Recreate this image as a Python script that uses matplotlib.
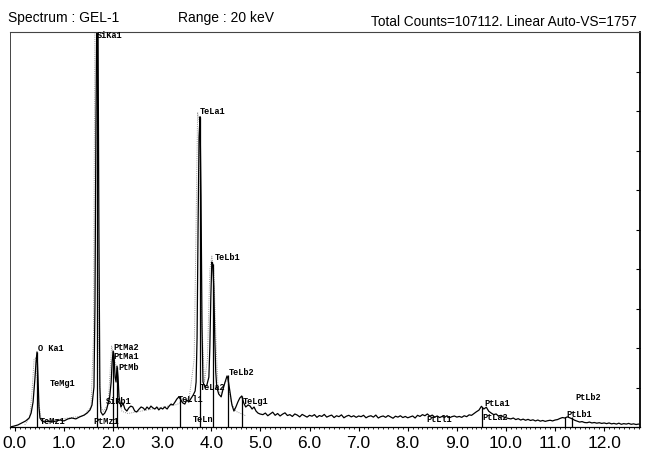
import matplotlib
matplotlib.use("Agg")
import matplotlib.pyplot as plt
from matplotlib.ticker import MultipleLocator

# measured spectrum (keV, counts)
kev = [-0.10, -0.02, 0.06, 0.14, 0.22, 0.29, 0.33, 0.37, 0.41, 0.43, 0.45, 0.47, 0.49, 0.51,
       0.55, 0.61, 0.67, 0.75, 0.84, 0.92, 1.00, 1.08, 1.16, 1.24, 1.32, 1.41, 1.47, 1.53,
       1.57, 1.61, 1.63, 1.65, 1.67, 1.69, 1.71, 1.73, 1.75, 1.79, 1.83, 1.87, 1.89, 1.93,
       1.96, 1.98, 2.00, 2.02, 2.04, 2.06, 2.08, 2.10, 2.12, 2.16, 2.20, 2.24, 2.28, 2.32,
       2.36, 2.40, 2.44, 2.48, 2.53, 2.57, 2.61, 2.65, 2.69, 2.73, 2.77, 2.81, 2.85, 2.89,
       2.93, 2.97, 3.01, 3.05, 3.10, 3.14, 3.18, 3.22, 3.26, 3.30, 3.34, 3.38, 3.42, 3.46,
       3.50, 3.54, 3.58, 3.63, 3.67, 3.69, 3.71, 3.73, 3.75, 3.77, 3.79, 3.81, 3.83, 3.87,
       3.91, 3.95, 3.97, 3.99, 4.01, 4.03, 4.05, 4.07, 4.09, 4.11, 4.15, 4.20, 4.24, 4.28,
       4.32, 4.34, 4.38, 4.42, 4.46, 4.50, 4.54, 4.58, 4.62, 4.66, 4.70, 4.75, 4.79, 4.83,
       4.87, 4.91, 4.95, 4.99,
       5.05, 5.10, 5.15, 5.20, 5.25, 5.30, 5.35, 5.40, 5.45, 5.50, 5.55, 5.60, 5.65, 5.70,
       5.75, 5.80, 5.85, 5.90, 5.95, 6.00,
       6.05, 6.10, 6.15, 6.20, 6.25, 6.30, 6.35, 6.40, 6.45, 6.50, 6.55, 6.60, 6.65, 6.70,
       6.75, 6.80, 6.85, 6.90, 6.95, 7.00,
       7.05, 7.10, 7.15, 7.20, 7.25, 7.30, 7.35, 7.40, 7.45, 7.50, 7.55, 7.60, 7.65, 7.70,
       7.75, 7.80, 7.85, 7.90, 7.95, 8.00,
       8.05, 8.10, 8.15, 8.20, 8.25, 8.30, 8.35, 8.40, 8.45, 8.50, 8.55, 8.60, 8.65, 8.70,
       8.75, 8.80, 8.85, 8.90, 8.95, 9.00,
       9.05, 9.10, 9.15, 9.20, 9.25, 9.30, 9.35, 9.40, 9.45, 9.50, 9.55, 9.60, 9.65, 9.70,
       9.75, 9.80, 9.85, 9.90, 9.95, 10.00,
       10.05, 10.10, 10.15, 10.20, 10.25, 10.30, 10.35, 10.40, 10.45, 10.50, 10.55, 10.60,
       10.65, 10.70, 10.75, 10.80, 10.85, 10.90, 10.95, 11.00,
       11.05, 11.10, 11.15, 11.20, 11.25, 11.30, 11.35, 11.40, 11.45, 11.50, 11.55, 11.60,
       11.65, 11.70, 11.75, 11.80, 11.85, 11.90, 11.95, 12.00,
       12.05, 12.10, 12.15, 12.20, 12.25, 12.30, 12.35, 12.40, 12.45, 12.50, 12.55, 12.60,
       12.65, 12.70, 12.75]
counts = [0, 4, 9, 18, 27, 40, 62, 111, 222, 289, 334, 222, 89, 40,
          27, 22, 27, 22, 27, 31, 27, 36, 40, 36, 45, 53, 62, 76,
          98, 178, 534, 1335, 1900, 1900, 890, 178, 67, 53, 62, 80, 98, 134,
          200, 289, 338, 312, 222, 200, 271, 222, 134, 89, 107, 80, 71, 85,
          93, 89, 71, 67, 80, 89, 85, 76, 89, 80, 93, 85, 80, 89,
          76, 85, 80, 89, 80, 93, 102, 98, 111, 125, 134, 120, 107, 102,
          120, 111, 125, 142, 160, 200, 400, 890, 1290, 1380, 1024, 445, 200, 178,
          187, 222, 356, 579, 734, 725, 623, 400, 245, 178, 147, 134, 169, 200,
          227, 214, 156, 98, 71, 89, 111, 129, 138, 107, 89, 98, 93, 80,
          89, 71, 62, 58,
          55, 62, 50, 58, 66, 52, 60, 49, 57, 63, 51, 55, 47, 58, 53, 45, 56, 50, 44, 52,
          48, 55, 43, 51, 47, 56, 44, 49, 53, 42, 50, 46, 54, 41, 48, 52, 45, 50, 43, 49,
          46, 52, 41, 47, 50, 44, 53, 40, 46, 49, 43, 51, 45, 39, 48, 44, 50, 42, 47, 41,
          45, 49, 40, 52, 47, 55, 50, 58, 48, 53, 44, 49, 42, 47, 43, 50, 41, 46, 49, 44,
          47, 43, 50, 46, 54, 52, 60, 68, 75, 92, 80, 88, 70, 62, 55, 58, 48, 52, 45, 41,
          38, 36, 40, 33, 37, 31, 35, 30, 34, 29, 32, 27, 31, 26, 29, 25, 28, 30, 27, 31,
          33, 38, 42, 40, 45, 41, 36, 30, 26, 22, 24, 20, 19, 22, 18, 20, 17, 19, 16, 18,
          15, 18, 14, 16, 13, 17, 12, 15, 13, 16, 12, 14, 11, 13, 12]

# dotted grey overlay (fitted profile)
fit_kev = [0.20, 0.30, 0.35, 0.39, 0.43, 0.47, 0.53, 0.60, 1.40, 1.55, 1.60, 1.63, 1.66,
           1.70, 1.74, 1.80, 1.90, 1.94, 1.97, 2.00, 2.04, 2.08, 2.12, 2.18, 2.30, 3.30,
           3.55, 3.65, 3.69, 3.72, 3.76, 3.80, 3.86, 3.92, 3.97, 4.01, 4.05, 4.10, 4.14,
           4.20, 4.28, 4.33, 4.40, 4.50, 4.70]
fit_counts = [10, 40, 160, 300, 310, 130, 40, 25, 50, 90, 400, 1800, 1800,
              400, 90, 70, 100, 250, 360, 330, 290, 260, 120, 70, 60, 100,
              130, 300, 900, 1400, 1350, 500, 200, 300, 700, 760, 700, 350, 160,
              150, 200, 210, 110, 70, 50]

# KLM marker lines
marker_kev = [0.45, 1.68, 2.00, 2.08, 3.36, 3.77, 4.03, 4.34, 4.62, 9.52, 11.20, 11.34]
marker_top = [334, 1757, 338, 267, 125, 1380, 725, 231, 138, 89, 45, 45]

# peak labels
label_text = ["SiKa1", "TeLa1", "TeLb1", "O Ka1", "PtMa2", "PtMa1", "PtMb", "TeLb2",
              "TeLa2", "TeLl1", "TeLg1", "SiKb1", "TeMg1", "TeMz1", "PtMz1", "TeLn",
              "PtLl1", "PtLa1", "PtLa2", "PtLb1", "PtLb2"]
label_kev = [1.67, 3.77, 4.07, 0.47, 2.00, 2.00, 2.10, 4.36,
             3.77, 3.32, 4.64, 1.85, 0.71, 0.51, 1.59, 3.63,
             8.37, 9.57, 9.53, 11.24, 11.41]
label_counts = [1744, 1406, 757, 352, 360, 316, 267, 249,
                182, 125, 116, 120, 200, 31, 31, 40,
                36, 107, 45, 62, 134]

sans = ["Liberation Sans Narrow", "Liberation Sans"]

fig = plt.figure(figsize=(6.46, 4.56), dpi=100)
ax = fig.add_axes([10 / 646, 1 - 428 / 456, 630 / 646, 395 / 456])

ax.plot(fit_kev, fit_counts, color="#999999", lw=0.7, ls=(0, (1, 1.2)))
ax.plot(kev, counts, color="black", lw=0.9)
ax.vlines(marker_kev, 0, marker_top, color="black", lw=0.9)

for t, x, y in zip(label_text, label_kev, label_counts):
    ax.text(x, y, t, fontsize=6.2, family=["Liberation Mono", "DejaVu Sans Mono"],
            ha="left", va="center", color="black", weight="bold")

ax.set_xlim(-0.10, 12.73)
ax.set_ylim(0, 1757)

ax.xaxis.set_major_locator(MultipleLocator(1.0))
ax.xaxis.set_minor_locator(MultipleLocator(0.1))
ax.set_xticks(range(13))
ax.set_xticklabels(["%.1f" % v for v in range(13)], family=sans, fontsize=12.5)
ax.tick_params(axis="x", which="major", direction="out", length=3, width=0.8, pad=2.5)
ax.tick_params(axis="x", which="minor", direction="out", length=1.5, width=0.6)

ax.yaxis.tick_right()
ax.yaxis.set_major_locator(MultipleLocator(1757 / 10))
ax.tick_params(axis="y", which="major", direction="in", length=3, width=0.8,
               labelright=False)

ax.spines["top"].set_linewidth(0.8)
ax.spines["top"].set_color("#444444")
ax.spines["top"].set_linestyle((0, (3, 1)))
ax.spines["left"].set_linewidth(0.7)
ax.spines["left"].set_color("#444444")
ax.spines["left"].set_linestyle((0, (4, 1)))
ax.spines["right"].set_linewidth(1.3)
ax.spines["bottom"].set_linewidth(0.9)

fig.text(8 / 646, 1 - 22 / 456, "Spectrum : GEL-1", family=sans, fontsize=10,
         ha="left", va="baseline")
fig.text(178 / 646, 1 - 22 / 456, "Range : 20 keV", family=sans, fontsize=10,
         ha="left", va="baseline")
fig.text(637 / 646, 1 - 26 / 456, "Total Counts=107112. Linear Auto-VS=1757",
         family=sans, fontsize=9.8, ha="right", va="baseline")

fig.savefig("out.png", dpi=100)
